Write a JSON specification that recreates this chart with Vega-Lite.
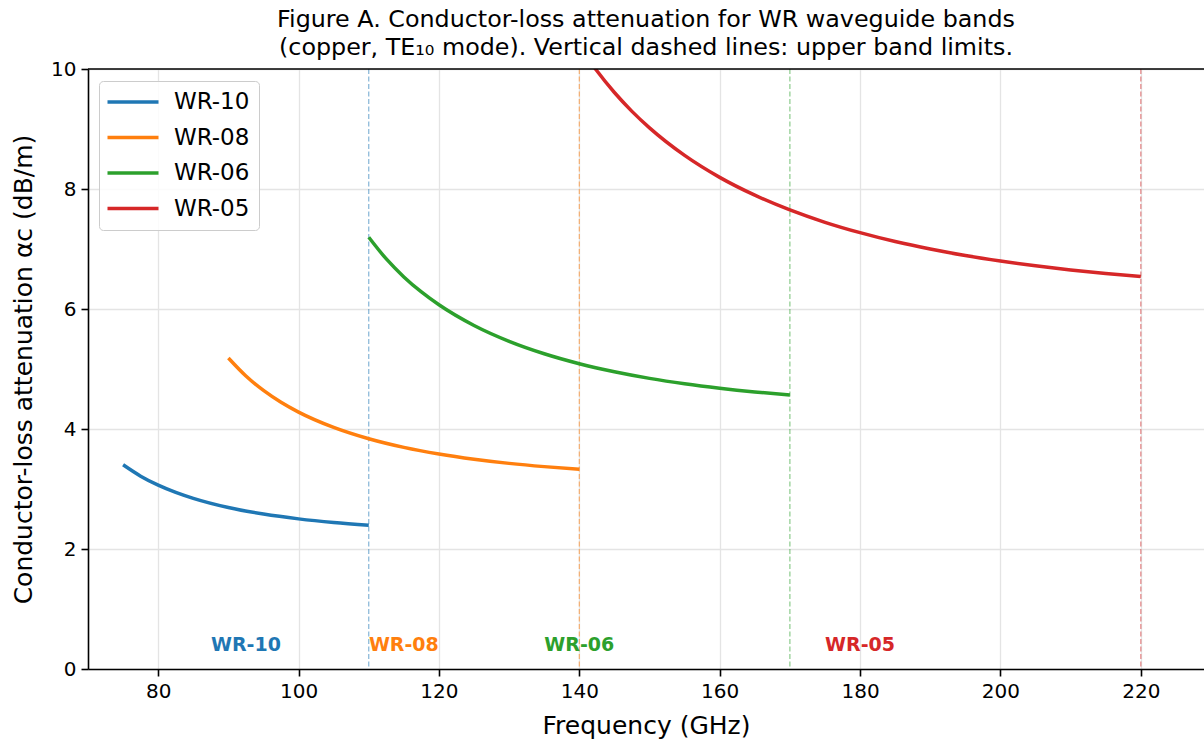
{
  "$schema": "https://vega.github.io/schema/vega-lite/v6.json",
  "autosize": {"type": "none"},
  "padding": {"left": 88, "top": 69, "right": 0, "bottom": 71},
  "width": 1116,
  "height": 600,
  "background": "white",
  "config": {
    "view": {"stroke": null},
    "font": "DejaVu Sans",
    "axis": {
      "labelFont": "DejaVu Sans",
      "titleFont": "DejaVu Sans",
      "labelFontSize": 20,
      "titleFontSize": 25,
      "titleFontWeight": "normal",
      "labelColor": "black",
      "titleColor": "black",
      "domainColor": "black",
      "domainWidth": 1.6,
      "tickColor": "black",
      "tickWidth": 1.6,
      "tickSize": 7,
      "labelPadding": 5,
      "gridColor": "#e4e4e4",
      "gridWidth": 1.3,
      "labelFlush": false
    }
  },
  "title": {
    "text": ["Figure A. Conductor-loss attenuation for WR waveguide bands", "(copper, TE₁₀ mode). Vertical dashed lines: upper band limits."],
    "font": "DejaVu Sans",
    "fontSize": 23.8,
    "fontWeight": "normal",
    "color": "black",
    "anchor": "middle",
    "lineHeight": 28,
    "offset": -1
  },
  "datasets": {
    "curves": [
      {"band": "WR-10", "f": 75, "a": 3.403},
      {"band": "WR-10", "f": 77.5, "a": 3.214},
      {"band": "WR-10", "f": 80, "a": 3.064},
      {"band": "WR-10", "f": 82.5, "a": 2.943},
      {"band": "WR-10", "f": 85, "a": 2.844},
      {"band": "WR-10", "f": 90, "a": 2.691},
      {"band": "WR-10", "f": 95, "a": 2.582},
      {"band": "WR-10", "f": 100, "a": 2.502},
      {"band": "WR-10", "f": 105, "a": 2.442},
      {"band": "WR-10", "f": 110, "a": 2.397},
      {"band": "WR-08", "f": 90, "a": 5.183},
      {"band": "WR-08", "f": 92.5, "a": 4.883},
      {"band": "WR-08", "f": 95, "a": 4.643},
      {"band": "WR-08", "f": 97.5, "a": 4.446},
      {"band": "WR-08", "f": 100, "a": 4.282},
      {"band": "WR-08", "f": 105, "a": 4.027},
      {"band": "WR-08", "f": 110, "a": 3.838},
      {"band": "WR-08", "f": 115, "a": 3.694},
      {"band": "WR-08", "f": 120, "a": 3.583},
      {"band": "WR-08", "f": 125, "a": 3.496},
      {"band": "WR-08", "f": 130, "a": 3.427},
      {"band": "WR-08", "f": 135, "a": 3.373},
      {"band": "WR-08", "f": 140, "a": 3.330},
      {"band": "WR-06", "f": 110, "a": 7.196},
      {"band": "WR-06", "f": 112.5, "a": 6.834},
      {"band": "WR-06", "f": 115, "a": 6.535},
      {"band": "WR-06", "f": 117.5, "a": 6.284},
      {"band": "WR-06", "f": 120, "a": 6.070},
      {"band": "WR-06", "f": 125, "a": 5.725},
      {"band": "WR-06", "f": 130, "a": 5.461},
      {"band": "WR-06", "f": 135, "a": 5.254},
      {"band": "WR-06", "f": 140, "a": 5.088},
      {"band": "WR-06", "f": 145, "a": 4.954},
      {"band": "WR-06", "f": 150, "a": 4.844},
      {"band": "WR-06", "f": 155, "a": 4.754},
      {"band": "WR-06", "f": 160, "a": 4.680},
      {"band": "WR-06", "f": 165, "a": 4.618},
      {"band": "WR-06", "f": 170, "a": 4.567},
      {"band": "WR-05", "f": 140, "a": 10.393},
      {"band": "WR-05", "f": 141, "a": 10.216},
      {"band": "WR-05", "f": 142.5, "a": 9.970},
      {"band": "WR-05", "f": 145, "a": 9.608},
      {"band": "WR-05", "f": 147.5, "a": 9.294},
      {"band": "WR-05", "f": 150, "a": 9.019},
      {"band": "WR-05", "f": 155, "a": 8.560},
      {"band": "WR-05", "f": 160, "a": 8.194},
      {"band": "WR-05", "f": 165, "a": 7.897},
      {"band": "WR-05", "f": 170, "a": 7.651},
      {"band": "WR-05", "f": 175, "a": 7.445},
      {"band": "WR-05", "f": 180, "a": 7.272},
      {"band": "WR-05", "f": 185, "a": 7.124},
      {"band": "WR-05", "f": 190, "a": 6.999},
      {"band": "WR-05", "f": 195, "a": 6.891},
      {"band": "WR-05", "f": 200, "a": 6.799},
      {"band": "WR-05", "f": 205, "a": 6.719},
      {"band": "WR-05", "f": 210, "a": 6.650},
      {"band": "WR-05", "f": 215, "a": 6.592},
      {"band": "WR-05", "f": 220, "a": 6.541}
    ],
    "bands": [
      {"band": "WR-10", "fmax": 110, "fmid": 92.5},
      {"band": "WR-08", "fmax": 140, "fmid": 115},
      {"band": "WR-06", "fmax": 170, "fmid": 140},
      {"band": "WR-05", "fmax": 220, "fmid": 180}
    ]
  },
  "resolve": {"scale": {"color": "independent"}},
  "layer": [
    {
      "data": {"name": "bands"},
      "mark": {"type": "rule", "strokeDash": [5, 2.5], "strokeWidth": 1.2, "opacity": 0.55},
      "encoding": {
        "x": {"field": "fmax", "type": "quantitative", "scale": {"domain": [70, 229], "nice": false, "zero": false},
          "axis": {"values": [80, 100, 120, 140, 160, 180, 200, 220], "title": "Frequency (GHz)", "grid": true, "titlePadding": 12}},
        "color": {"field": "band", "type": "nominal", "legend": null,
          "scale": {"domain": ["WR-10", "WR-08", "WR-06", "WR-05"], "range": ["#1f77b4", "#ff7f0e", "#2ca02c", "#d62728"]}}
      }
    },
    {
      "data": {"name": "curves"},
      "mark": {"type": "line", "strokeWidth": 3.5, "clip": true, "interpolate": "monotone"},
      "encoding": {
        "x": {"field": "f", "type": "quantitative"},
        "y": {"field": "a", "type": "quantitative", "scale": {"domain": [0, 10], "nice": false},
          "axis": {"values": [0, 2, 4, 6, 8, 10], "format": "d", "title": "Conductor-loss attenuation αc (dB/m)", "grid": true, "titlePadding": 14}},
        "color": {"field": "band", "type": "nominal",
          "scale": {"domain": ["WR-10", "WR-08", "WR-06", "WR-05"], "range": ["#1f77b4", "#ff7f0e", "#2ca02c", "#d62728"]},
          "sort": ["WR-10", "WR-08", "WR-06", "WR-05"],
          "legend": {
            "title": null,
            "orient": "none",
            "legendX": 11,
            "legendY": 12,
            "symbolType": "M-2.55,0H2.55",
            "symbolSize": 400,
            "symbolOffset": 13,
            "symbolStrokeWidth": 3.5,
            "labelFont": "DejaVu Sans",
            "labelFontSize": 23,
            "labelColor": "black",
            "labelOffset": 29,
            "rowPadding": 11.5,
            "padding": 9,
            "strokeColor": "#cccccc",
            "fillColor": "rgba(255,255,255,0.85)",
            "cornerRadius": 4
          }
        }
      }
    },
    {
      "data": {"name": "bands"},
      "mark": {"type": "text", "fontWeight": "bold", "fontSize": 19, "font": "DejaVu Sans", "baseline": "middle", "align": "center"},
      "encoding": {
        "x": {"field": "fmid", "type": "quantitative"},
        "y": {"datum": 0.4, "type": "quantitative"},
        "text": {"field": "band"},
        "color": {"field": "band", "type": "nominal", "legend": null,
          "scale": {"domain": ["WR-10", "WR-08", "WR-06", "WR-05"], "range": ["#1f77b4", "#ff7f0e", "#2ca02c", "#d62728"]}}
      }
    },
    {
      "data": {"values": [{}]},
      "mark": {"type": "rule", "color": "black", "strokeWidth": 1.6},
      "encoding": {"y": {"datum": 10, "type": "quantitative"}}
    }
  ]
}
